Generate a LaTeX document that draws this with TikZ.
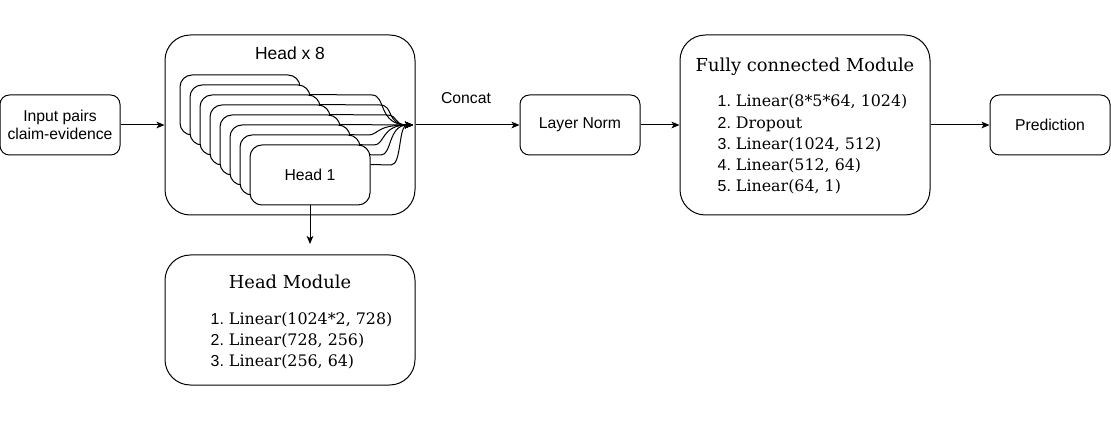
\documentclass[tikz,border=0pt]{standalone}
\usepackage{fontspec}
\setmainfont{DejaVu Serif}
\newfontfamily\helv{Liberation Sans}
\usetikzlibrary{arrows.meta,backgrounds}

\tikzset{
    sbox/.style={draw, rounded corners=7pt, fill=white, minimum width=90pt, minimum height=45pt,
        align=center, font=\helv\fontsize{11.8}{14}\selectfont, line width=0.75pt},
    module/.style={draw, rounded corners=19pt, minimum width=187.5pt, minimum height=135pt, line width=0.75pt},
    arr/.style={-{Stealth[length=6pt,width=5pt,inset=1.5pt]}, line width=0.75pt},
    plain/.style={font=\helv\fontsize{11.8}{14}\selectfont},
    title/.style={font=\fontsize{13.4}{16}\selectfont},
    items/.style={align=left, anchor=west, font=\fontsize{11.9}{15.9}\selectfont}
}
\newcommand{\itm}[1]{{\helv #1.}~}

\begin{document}
\begin{tikzpicture}[x=0.75pt, y=-0.75pt]
    \useasboundingbox (0,0) rectangle (1111,424);

    % input and outer head box
    \node[sbox] (input) at (60,125) {Input pairs\\claim-evidence};
    \node[module] (heads) at (290,125) {};
    \node[plain, font=\helv\fontsize{13.1}{16}\selectfont] (headstitle) at (290,53) {Head x 8};

    % stacked heads, back to front
    \foreach \i in {0,...,6} {
        \node[sbox, rounded corners=9pt] (h\i) at ({240+10*\i},{105+10*\i}) {};
    }
    \node[sbox, rounded corners=9pt] (h7) at (310,175) {Head 1};
    \coordinate (merge) at (413,125);

    % curved connectors behind the heads
    \begin{scope}[on background layer]
        \foreach \i/\a in {0/372,1/380,2/386} {
            \draw[arr] ([yshift=-15pt]h\i.north east) -- (\a,{95+10*\i})
                .. controls ({\a+14},{95+10*\i}) and ({\a+6},125) .. (merge);
        }
        \draw[arr] ([yshift=-15pt]h3.north east) -- (merge);
        \foreach \i/\v in {4/377,5/383,6/390,7/400} {
            \draw[arr] ([yshift=-15pt]h\i.north east) -- ({\v-9},{95+10*\i})
                .. controls ({\v+2},{95+10*\i}) and ({\v-2},125) .. (merge);
        }
    \end{scope}

    % main line
    \node[sbox] (norm) at (580,125) {Layer Norm};
    \node[plain] (concat) at (466,98) {Concat};
    \node[module] (fc) at (805,125) {};
    \node[title] (fctitle) at (805,67) {Fully connected Module};
    \node[items] (fclist) at (713,144.5) {\itm{1}Linear(8*5*64, 1024)\\\itm{2}Dropout\\\itm{3}Linear(1024, 512)\\\itm{4}Linear(512, 64)\\\itm{5}Linear(64, 1)};
    \node[sbox] (pred) at (1050,125) {Prediction};

    \draw[arr] (input) -- (heads);
    \draw[arr] (heads) -- (norm);
    \draw[arr] (norm) -- (fc);
    \draw[arr] (fc) -- (pred);

    % head module
    \node[module, minimum height=97.5pt] (hm) at (290,320) {};
    \node[title] (hmtitle) at (290,282) {Head Module};
    \node[items] (hmlist) at (206,341) {\itm{1}Linear(1024*2, 728)\\\itm{2}Linear(728, 256)\\\itm{3}Linear(256, 64)};
    \coordinate (down) at (310,244);
    \draw[arr] (h7.south) -- (down);
\end{tikzpicture}
\end{document}
